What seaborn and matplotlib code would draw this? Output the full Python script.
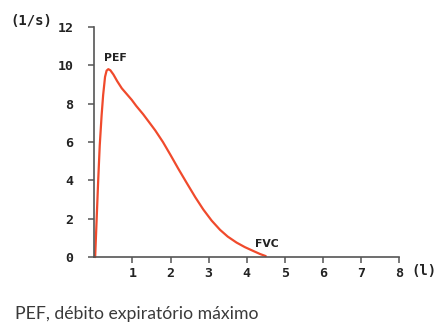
import matplotlib
matplotlib.use("Agg")
import matplotlib.pyplot as plt
import seaborn as sns
import pandas as pd

volume = [0.02, 0.06, 0.10, 0.14, 0.19, 0.23, 0.28, 0.32, 0.365, 0.42, 0.50, 0.60, 0.72,
          0.85, 0.98, 1.10, 1.28, 1.45, 1.60, 1.80, 2.00, 2.20, 2.42, 2.65, 2.86, 3.08,
          3.30, 3.50, 3.73, 3.95, 4.17, 4.35, 4.50]
flow = [0.0, 2.0, 4.0, 5.8, 7.4, 8.45, 9.4, 9.72, 9.8, 9.74, 9.52, 9.17, 8.8,
        8.5, 8.2, 7.88, 7.45, 7.0, 6.6, 6.0, 5.32, 4.62, 3.88, 3.12, 2.48, 1.9,
        1.42, 1.07, 0.76, 0.52, 0.32, 0.16, 0.05]
x_ticks = [1, 2, 3, 4, 5, 6, 7, 8]
y_ticks = [0, 2, 4, 6, 8, 10, 12]

sns.set_style("ticks")
df = pd.DataFrame({"volume": volume, "flow": flow})

fig = plt.figure(figsize=(4.39, 3.25), dpi=100)
ax = fig.add_axes([0.215, 0.209, 0.694, 0.708])
sns.lineplot(data=df, x="volume", y="flow", ax=ax, color="#f04a2c", linewidth=1.6,
             sort=False, estimator=None, clip_on=False)

ax.set_xlim(0, 8)
ax.set_ylim(0, 12)
ax.set_xticks(x_ticks)
ax.set_yticks(y_ticks)
ax.set_xlabel("")
ax.set_ylabel("")
for s in ["top", "right"]:
    ax.spines[s].set_visible(False)
for s in ["left", "bottom"]:
    ax.spines[s].set_color("#555555")
    ax.spines[s].set_linewidth(1.2)
ax.tick_params(axis="both", colors="#555555", length=4, width=1.1, labelcolor="#222222")
ax.tick_params(axis="y", pad=11)
ax.tick_params(axis="x", pad=3)
for lab in ax.get_xticklabels() + ax.get_yticklabels():
    lab.set_fontfamily("DejaVu Sans Mono")
    lab.set_fontweight("bold")
    lab.set_fontsize(9.5)

fig.text(10 / 439, 1 - 21 / 325, "(1/s)", family="DejaVu Sans Mono", weight="bold",
         fontsize=10, color="#222222", va="center", ha="left")
fig.text(411 / 439, 1 - 271 / 325, "(l)", family="DejaVu Sans Mono", weight="bold",
         fontsize=10, color="#222222", va="center", ha="left")
ax.text(0.24, 10.1, "PEF", family="DejaVu Sans", weight="bold", fontsize=7.8,
        color="#222222", ha="left", va="bottom")
ax.text(4.22, 0.4, "FVC", family="DejaVu Sans", weight="bold", fontsize=7.8,
        color="#222222", ha="left", va="bottom")

fig.text(15 / 439, 1 - 314 / 325, "PEF, débito expiratório máximo", family="Lato",
         fontsize=12.7, color="#3a3a3a", va="center", ha="left")

fig.savefig("out.png", dpi=100)
